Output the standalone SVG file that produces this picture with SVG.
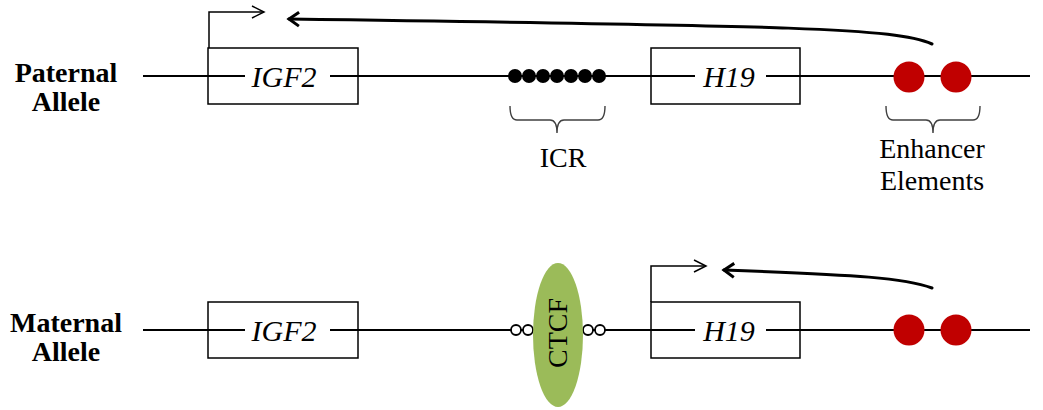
<svg xmlns="http://www.w3.org/2000/svg" width="1043" height="410" viewBox="0 0 1043 410">
<defs>
<style>
.lbl{font-family:'Liberation Serif','Times New Roman',Times,serif;font-size:28px;font-weight:bold;fill:#000;text-anchor:middle}
.gene{font-family:'Liberation Serif','Times New Roman',Times,serif;font-size:30px;font-style:italic;fill:#000;text-anchor:middle}
.txt{font-family:'Liberation Serif','Times New Roman',Times,serif;font-size:28px;fill:#000;text-anchor:middle}
.box{fill:none;stroke:#000;stroke-width:1.5}
.chrom{stroke:#000;stroke-width:2;fill:none}
.brace{fill:none;stroke:#404040;stroke-width:1.4}
.enh{fill:#C00000}
.icr{fill:#000}
.ring{fill:#fff;stroke:#000;stroke-width:1.8}
.prom{fill:none;stroke:#000;stroke-width:1.5}
.curve{fill:none;stroke:#000;stroke-width:3;stroke-linecap:round}
</style>
<marker id="openHead" markerUnits="userSpaceOnUse" markerWidth="16" markerHeight="14" refX="13" refY="7" orient="auto" viewBox="0 0 16 14">
<path d="M1,1 L13,7 L1,13" fill="none" stroke="#000" stroke-width="1.5"/>
</marker>
<marker id="boldHead" markerUnits="userSpaceOnUse" markerWidth="18" markerHeight="18" refX="15" refY="9" orient="auto" viewBox="0 0 18 18">
<path d="M5,2 L15,9 L5,16" fill="none" stroke="#000" stroke-width="3" stroke-linejoin="miter"/>
</marker>
</defs>
<rect width="1043" height="410" fill="#fff"/>

<g id="labels">
<text class="lbl" x="66" y="82">Paternal</text>
<text class="lbl" x="66" y="111">Allele</text>
<text class="lbl" x="66" y="332">Maternal</text>
<text class="lbl" x="66" y="361">Allele</text>
</g>

<g id="chromosomes">
<line class="chrom" x1="143" y1="76" x2="1030" y2="76"/>
<line class="chrom" x1="143" y1="330" x2="1030" y2="330"/>
</g>

<g id="pat-igf2">
<rect class="box" x="208" y="48" width="150" height="56"/>
<rect x="245" y="65" width="85" height="24" fill="#fff"/>
<text class="gene" x="284" y="87">IGF2</text>
</g>

<g id="pat-icr">
<circle class="icr" cx="515" cy="76" r="7"/>
<circle class="icr" cx="529" cy="76" r="7"/>
<circle class="icr" cx="543" cy="76" r="7"/>
<circle class="icr" cx="557" cy="76" r="7"/>
<circle class="icr" cx="571" cy="76" r="7"/>
<circle class="icr" cx="585" cy="76" r="7"/>
<circle class="icr" cx="599" cy="76" r="7"/>
<path class="brace" d="M510,106 Q510,120 517,120 L550,120 Q557,120 557,133 Q557,120 564,120 L598,120 Q605,120 605,106"/>
<text class="txt" x="563" y="167">ICR</text>
</g>

<g id="pat-h19">
<rect class="box" x="651" y="48" width="149" height="56"/>
<rect x="695" y="65" width="71" height="24" fill="#fff"/>
<text class="gene" x="729" y="87">H19</text>
</g>

<g id="pat-enhancers">
<circle class="enh" cx="909" cy="77" r="15.5"/>
<circle class="enh" cx="956" cy="77" r="15.5"/>
<path class="brace" d="M886,106 Q886,120 893,120 L926,120 Q933,120 933,133 Q933,120 940,120 L973,120 Q980,120 980,106"/>
<text class="txt" x="932" y="158">Enhancer</text>
<text class="txt" x="932" y="190">Elements</text>
</g>

<g id="mat-igf2">
<rect class="box" x="208" y="302" width="150" height="56"/>
<rect x="245" y="319" width="85" height="24" fill="#fff"/>
<text class="gene" x="284" y="341">IGF2</text>
</g>

<g id="mat-ctcf">
<circle class="ring" cx="516" cy="330" r="5"/>
<circle class="ring" cx="528" cy="330" r="5"/>
<circle class="ring" cx="588" cy="330" r="5"/>
<circle class="ring" cx="600" cy="330" r="5"/>
<ellipse cx="558" cy="335" rx="25" ry="72" fill="#9BBB59"/>
<text class="txt" x="0" y="0" transform="translate(567,333) rotate(-90)" style="font-size:28px">CTCF</text>
</g>

<g id="mat-h19">
<rect class="box" x="651" y="302" width="149" height="56"/>
<rect x="695" y="319" width="71" height="24" fill="#fff"/>
<text class="gene" x="729" y="341">H19</text>
</g>

<g id="mat-enhancers">
<circle class="enh" cx="909" cy="330" r="15.5"/>
<circle class="enh" cx="956" cy="330" r="15.5"/>
</g>

<g id="connectors">
<path class="prom" d="M209,48 L209,12 L264,12" marker-end="url(#openHead)"/>
<path class="curve" d="M932,44 C895,28 800,26 289,19" marker-end="url(#boldHead)"/>
<path class="prom" d="M651,302 L651,266 L706,266" marker-end="url(#openHead)"/>
<path class="curve" d="M932,288 C905,278 860,275 724,270" marker-end="url(#boldHead)"/>
</g>
</svg>
